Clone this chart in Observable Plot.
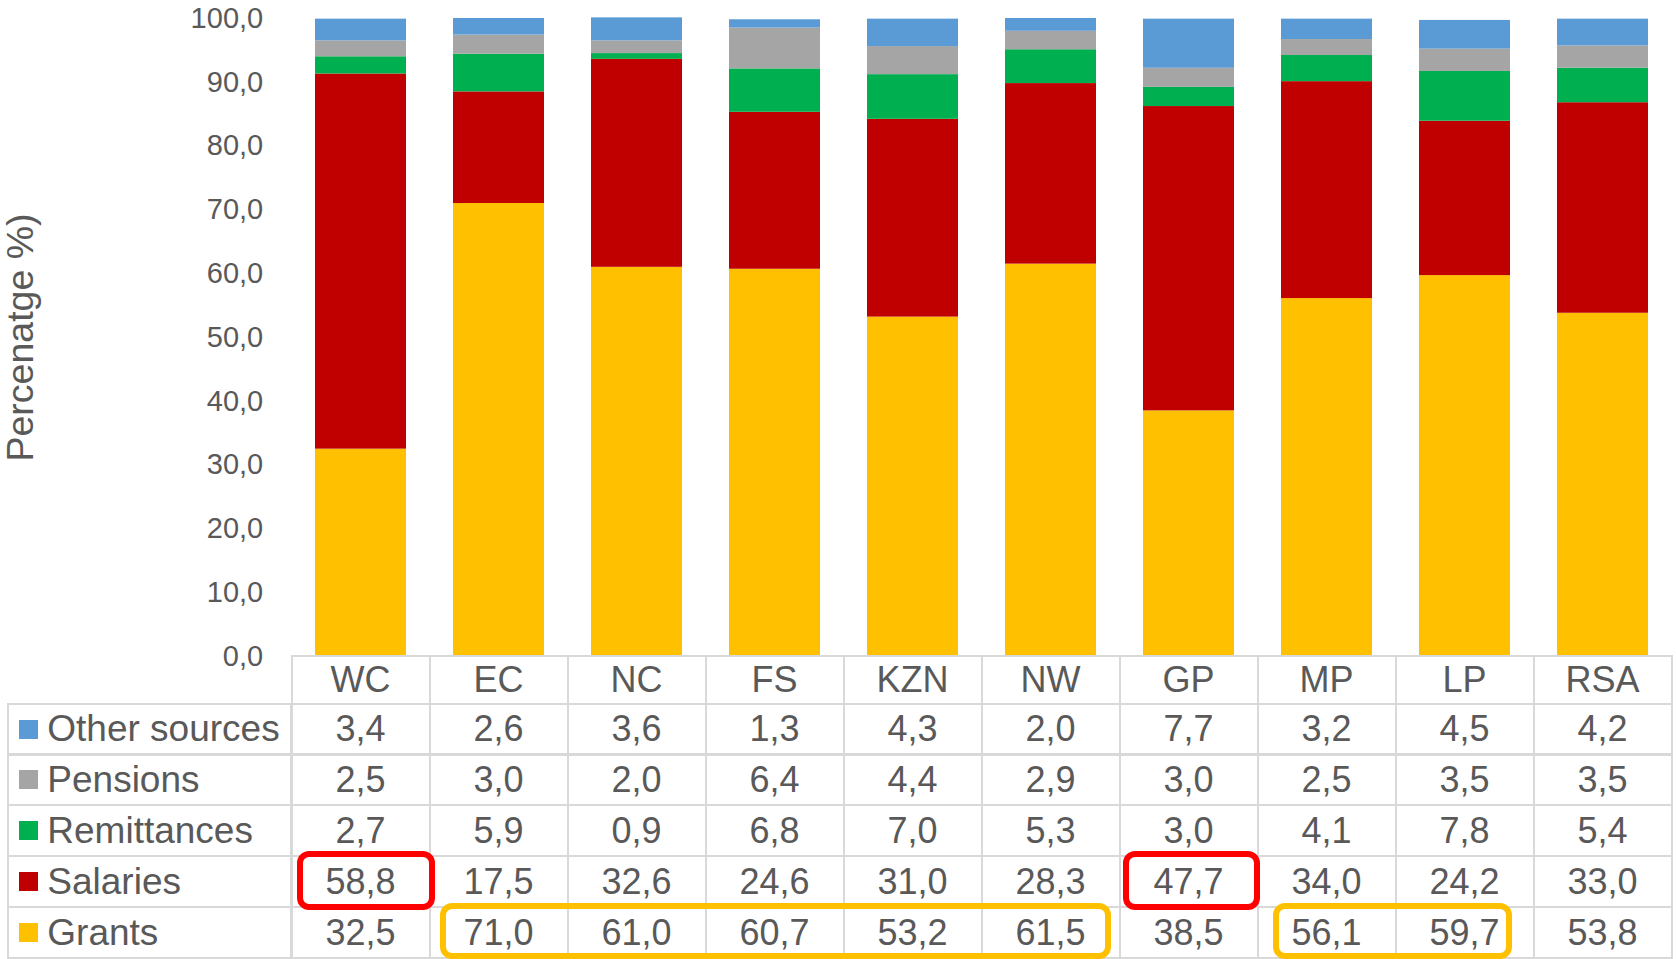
<!DOCTYPE html>
<html>
<head>
<meta charset="utf-8">
<script src="https://cdn.jsdelivr.net/npm/d3@7"></script>
<script src="https://cdn.jsdelivr.net/npm/@observablehq/plot@0.6"></script>
<style>
  html, body { margin: 0; padding: 0; background: #ffffff; }
  body { font-family: "Liberation Sans", Arial, sans-serif; }
  #wrap { position: relative; width: 1676px; height: 959px; overflow: hidden; }
  #wrap svg { position: absolute; left: 0; top: 0; }
  .cell {
    position: absolute; box-sizing: border-box; border: 2px solid #d9d9d9;
    display: flex; align-items: center; justify-content: center;
    font-size: 36px; color: #595959; white-space: nowrap;
  }
  .legend { justify-content: flex-start; font-size: 37px; }
  .swatch { display: inline-block; width: 19px; height: 19px; margin-left: 10px; margin-right: 9px; }
  .hl { position: absolute; box-sizing: border-box; border-width: 6px; border-style: solid; border-radius: 12px; background: transparent; }
</style>
</head>
<body>
<div id="wrap"></div>
<script>
// ---- data ----
const regions = ["WC", "EC", "NC", "FS", "KZN", "NW", "GP", "MP", "LP", "RSA"];
const stackOrder = ["Grants", "Salaries", "Remittances", "Pensions", "Other sources"]; // bottom to top
const tableOrder = ["Other sources", "Pensions", "Remittances", "Salaries", "Grants"]; // table rows
const sourceColors = ["#FFC000", "#C00000", "#00B050", "#A5A5A5", "#5B9BD5"];
const grants      = [32.5, 71.0, 61.0, 60.7, 53.2, 61.5, 38.5, 56.1, 59.7, 53.8];
const salaries    = [58.8, 17.5, 32.6, 24.6, 31.0, 28.3, 47.7, 34.0, 24.2, 33.0];
const remittances = [2.7, 5.9, 0.9, 6.8, 7.0, 5.3, 3.0, 4.1, 7.8, 5.4];
const pensions    = [2.5, 3.0, 2.0, 6.4, 4.4, 2.9, 3.0, 2.5, 3.5, 3.5];
const otherSrc    = [3.4, 2.6, 3.6, 1.3, 4.3, 2.0, 7.7, 3.2, 4.5, 4.2];
const yTicks = [0, 10, 20, 30, 40, 50, 60, 70, 80, 90, 100];
const yTitle = "Percenatge %)";
const highlights = [
  { source: "Salaries", from: "WC", to: "WC", color: "#FF0000" },
  { source: "Salaries", from: "GP", to: "GP", color: "#FF0000" },
  { source: "Grants", from: "EC", to: "NW", color: "#FFC000" },
  { source: "Grants", from: "MP", to: "LP", color: "#FFC000" }
];

const series = {
  "Grants": grants, "Salaries": salaries, "Remittances": remittances,
  "Pensions": pensions, "Other sources": otherSrc
};
const data = [];
regions.forEach((r, i) => stackOrder.forEach(s => data.push({ region: r, source: s, value: series[s][i] })));
const fmt = v => v.toFixed(1).replace(".", ",");

const FONT = '"Liberation Sans", Arial, sans-serif';
const plot = Plot.plot({
  width: 1676,
  height: 681,
  marginTop: 18,
  marginBottom: 25,
  marginLeft: 288.7,
  marginRight: 1,
  style: { fontFamily: FONT, fontSize: "29px", color: "#595959", background: "transparent", overflow: "visible" },
  x: { domain: regions, paddingInner: 0.337, paddingOuter: 0.1685, axis: null },
  y: { domain: [0, 100], ticks: yTicks, tickFormat: fmt, tickSize: 0, tickPadding: 26, label: null },
  color: { domain: stackOrder, range: sourceColors },
  marks: [
    Plot.barY(data, { x: "region", y: "value", fill: "source", order: stackOrder }),
    Plot.text([yTitle], { text: d => d, frameAnchor: "left", dx: -268, rotate: -90, fontSize: 37.5, fill: "#595959", textAnchor: "middle" })
  ]
});
const wrap = document.getElementById("wrap");
wrap.appendChild(plot);

// ---- data table, aligned to the Plot x scale ----
const xs = plot.scale("x");
const step = xs.step;
const colLeft = r => xs.apply(r) - (step - xs.bandwidth) / 2;
const headerTop = plot.scale("y").apply(0);
const headerH = 47.6;
const rowH = 50.9;
const tableLeft = 8.3;
const firstColLeft = colLeft(regions[0]);

function cell(left, top, w, h, cls) {
  const d = document.createElement("div");
  d.className = "cell" + (cls ? " " + cls : "");
  d.style.left = (left - 1) + "px";
  d.style.top = (top - 1) + "px";
  d.style.width = (w + 2) + "px";
  d.style.height = (h + 2) + "px";
  wrap.appendChild(d);
  return d;
}
regions.forEach(r => { cell(colLeft(r), headerTop, step, headerH).textContent = r; });
const rowTop = s => headerTop + headerH + tableOrder.indexOf(s) * rowH;
tableOrder.forEach(s => {
  const top = rowTop(s);
  const lg = cell(tableLeft, top, firstColLeft - tableLeft, rowH, "legend");
  const sw = document.createElement("span");
  sw.className = "swatch";
  sw.style.background = sourceColors[stackOrder.indexOf(s)];
  lg.appendChild(sw);
  lg.appendChild(document.createTextNode(s));
  regions.forEach((r, i) => { cell(colLeft(r), top, step, rowH).textContent = fmt(series[s][i]); });
});

// ---- highlight boxes ----
const hlInset = { "WC": [5.3, -5.7], "GP": [3.5, -2.6], "EC-NW": [10.7, 8.8], "MP-LP": [15, 21.7] };
highlights.forEach(h => {
  const key = h.from === h.to ? h.from : h.from + "-" + h.to;
  const [li, ri] = hlInset[key];
  const left = colLeft(h.from) + li;
  const right = colLeft(h.to) + step - ri;
  const top = rowTop(h.source) - (h.source === "Grants" ? 4 : 5);
  const bottom = h.source === "Grants" ? 959 : rowTop(h.source) + rowH + 2.5;
  const d = document.createElement("div");
  d.className = "hl";
  d.style.borderColor = h.color;
  d.style.left = left + "px";
  d.style.top = top + "px";
  d.style.width = (right - left) + "px";
  d.style.height = (bottom - top) + "px";
  wrap.appendChild(d);
});
</script>
</body>
</html>
